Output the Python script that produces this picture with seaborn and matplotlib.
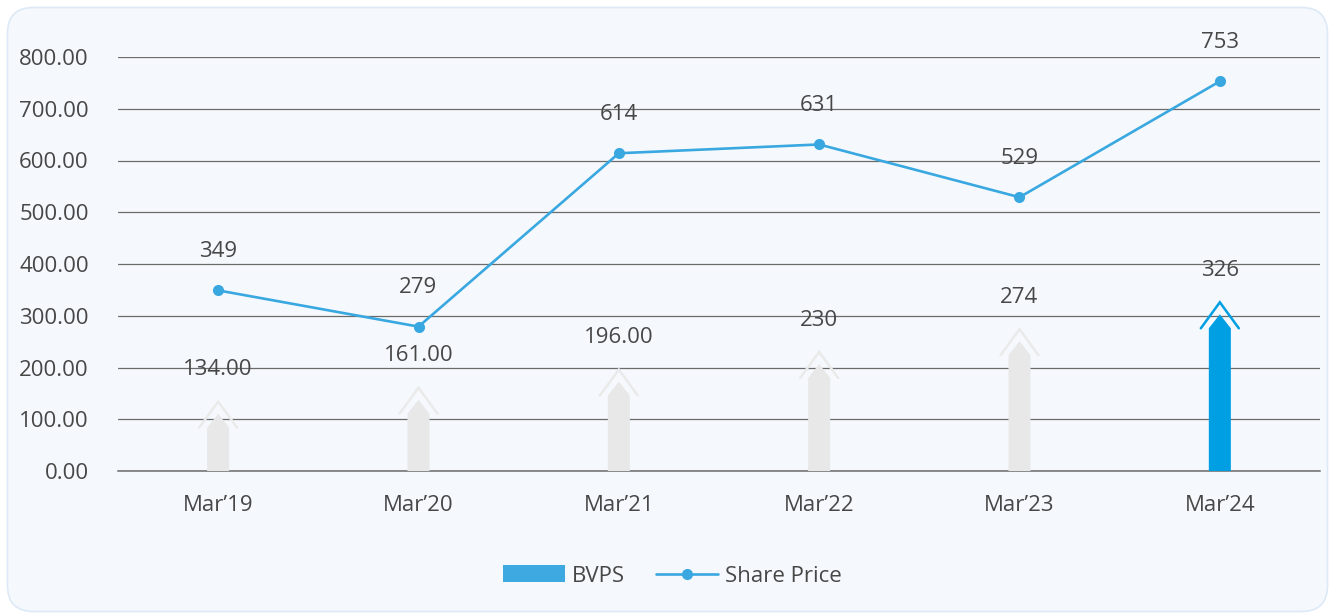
import matplotlib
matplotlib.use("Agg")
import matplotlib.pyplot as plt
import seaborn as sns
import pandas as pd
import numpy as np
from matplotlib.patches import FancyBboxPatch, Polygon, Patch
from matplotlib.lines import Line2D

# ---- data ----
periods = ["Mar\u201919", "Mar\u201920", "Mar\u201921", "Mar\u201922", "Mar\u201923", "Mar\u201924"]
bvps = [134, 161, 196, 230, 274, 326]
bvps_labels = ["134.00", "161.00", "196.00", "230", "274", "326"]
share_price = [349, 279, 614, 631, 529, 753]
share_price_labels = ["349", "279", "614", "631", "529", "753"]
y_ticks = [0, 100, 200, 300, 400, 500, 600, 700, 800]

# ---- style ----
TEXT = "#474747"
GRID = "#6b6b6b"
LINE_BLUE = "#3aa8e0"
BAR_GREY = "#e8e8e8"
BAR_BLUE = "#009fe3"
bar_colors = [BAR_GREY] * 5 + [BAR_BLUE]

sns.set_theme(style="white")
plt.rcParams["font.family"] = ["Open Sans", "DejaVu Sans"]
plt.rcParams["font.size"] = 16

W, H = 1331, 615
fig = plt.figure(figsize=(W / 100, H / 100), dpi=100)
fig.patch.set_facecolor("white")

# rounded card behind the chart
card = FancyBboxPatch((0.075, 0.035), 13.20, 6.04,
                      boxstyle="round,pad=0,rounding_size=0.26",
                      transform=fig.dpi_scale_trans,
                      facecolor="#f5f9fd", edgecolor="#dde9f6", linewidth=1.2,
                      zorder=-10)
fig.patches.append(card)

ax = fig.add_axes([118 / W, (H - 471) / H, (1320 - 118) / W, (471 - 57) / H])
ax.set_facecolor("none")
ax.set_zorder(1)

df = pd.DataFrame({"period": periods, "bvps": bvps, "price": share_price})

sns.barplot(data=df, x="period", y="bvps", hue="period", palette=bar_colors,
            legend=False, width=0.11, ax=ax, saturation=1)

ax.set_xlim(-0.5, 5.5)
ax.set_ylim(0, 800)

# pixel -> data conversion for the arrow heads
uy = 800 / 414.0
ux = 6 / 1202.0

patches = sorted(list(ax.patches), key=lambda p: p.get_x())
for p, col in zip(patches, bar_colors):
    x0, w, h = p.get_x(), p.get_width(), p.get_height()
    xc = x0 + w / 2
    p.remove()
    shoulder = h - 26 * uy
    tip = h - 12 * uy
    poly = Polygon([(x0, 0), (x0 + w, 0), (x0 + w, shoulder), (xc, tip), (x0, shoulder)],
                   closed=True, facecolor=col, edgecolor="none", zorder=3)
    ax.add_patch(poly)
    chev_col = col if col == BAR_BLUE else "#eaeaea"
    ax.add_line(Line2D([xc - 19 * ux, xc, xc + 19 * ux], [h - 26 * uy, h, h - 26 * uy],
                       color=chev_col, lw=1.8, solid_joinstyle="miter", zorder=3))

xs = np.arange(len(periods))
sns.lineplot(x=xs, y=share_price, ax=ax, color=LINE_BLUE, lw=1.9, marker="o",
             markersize=8, markeredgewidth=0, zorder=4)

# value labels
for x, v, lab in zip(xs, bvps, bvps_labels):
    ax.annotate(lab, (x, v), xytext=(0, 23), textcoords="offset points",
                ha="center", va="center", color=TEXT, fontsize=16, annotation_clip=False)
for x, v, lab in zip(xs, share_price, share_price_labels):
    ax.annotate(lab, (x, v), xytext=(0, 28), textcoords="offset points",
                ha="center", va="center", color=TEXT, fontsize=16, annotation_clip=False)

# axes cosmetics
ax.set_xlabel("")
ax.set_ylabel("")
ax.set_yticks(y_ticks)
ax.set_yticklabels([f"{t:.2f}" for t in y_ticks])
ax.set_xticks(xs)
ax.set_xticklabels(periods)
ax.set_xticks(np.arange(-0.5, 5.0, 1.0), minor=True)
ax.tick_params(axis="y", length=0, pad=21, labelcolor=TEXT, labelsize=16)
ax.tick_params(axis="x", which="major", length=0, pad=17, labelcolor=TEXT, labelsize=16)
ax.tick_params(axis="x", which="minor", length=8.5, width=1.1, color=GRID, direction="out")
ax.yaxis.grid(True, color=GRID, lw=0.9)
ax.xaxis.grid(False)
ax.set_axisbelow(True)
for s in ["top", "right", "left"]:
    ax.spines[s].set_visible(False)
ax.spines["bottom"].set_color(GRID)
ax.spines["bottom"].set_linewidth(1.1)

# legend
handles = [Patch(facecolor="#3da9e0", edgecolor="none", label="BVPS"),
           Line2D([0], [0], color=LINE_BLUE, lw=1.9, marker="o", markersize=8,
                  markeredgewidth=0, label="Share Price")]
leg = fig.legend(handles=handles, loc="center", bbox_to_anchor=(672 / W, (H - 576) / H),
                 ncol=2, frameon=False, fontsize=16, handlelength=2.8, handleheight=0.8,
                 handletextpad=0.3, columnspacing=1.4, labelcolor=TEXT)

fig.savefig("out.png", dpi=100, facecolor="white")
